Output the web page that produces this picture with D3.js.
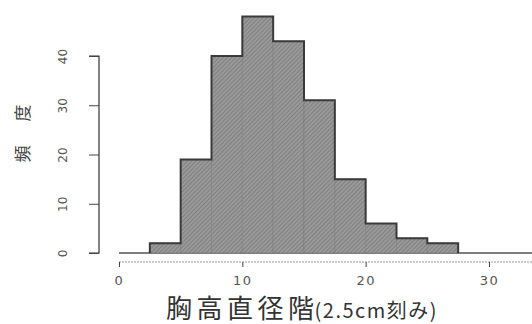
<!DOCTYPE html>
<html><head><meta charset="utf-8">
<script src="https://cdn.jsdelivr.net/npm/d3@7"></script>
<style>body{margin:0;background:#fff}</style>
</head><body>
<svg id="c" width="532" height="324"></svg>
<script>
const binStarts = [0, 2.5, 5, 7.5, 10, 12.5, 15, 17.5, 20, 22.5, 25, 27.5];
const counts    = [0, 2, 19, 40, 48, 43, 31, 15, 6, 3, 2, 0];
const binWidth = 2.5;
const xTicks = [0, 10, 20, 30];
const yTicks = [0, 10, 20, 30, 40];
const xLabelMain = "胸高直径階";
const xLabelSub = "(2.5cm刻み)";
const yLabelChars = ["頻", "度"];

const svg = d3.select("#c");
const x = d3.scaleLinear().domain([0, 30]).range([119, 489]);
const y = d3.scaleLinear().domain([0, 40]).range([253, 56]);

const defs = svg.append("defs");
const pat = defs.append("pattern").attr("id","hatch").attr("patternUnits","userSpaceOnUse")
  .attr("width",3).attr("height",3).attr("patternTransform","rotate(45)");
pat.append("rect").attr("width",3).attr("height",3).attr("fill","#999");
pat.append("line").attr("x1",0).attr("y1",0).attr("x2",0).attr("y2",3).attr("stroke","#707070").attr("stroke-width",1.2);

// zero baseline extending to right edge
svg.append("line").attr("x1", x(0)).attr("x2", 532).attr("y1", y(0)).attr("y2", y(0))
  .attr("stroke", "#555").attr("stroke-width", 1.3);

const bars = binStarts.map((s,i)=>({s, c: counts[i]})).filter(d=>d.c>0);
svg.selectAll("rect.bar").data(bars).join("rect").attr("class","bar")
  .attr("x", d=>x(d.s)).attr("width", d=>x(d.s+binWidth)-x(d.s))
  .attr("y", d=>y(d.c)).attr("height", d=>y(0)-y(d.c))
  .attr("fill","url(#hatch)").attr("stroke","#777").attr("stroke-width",0.8).attr("stroke-opacity",0.6);

// outer outline (step path)
const pts = [];
bars.forEach(d=>{ pts.push([x(d.s), y(d.c)]); pts.push([x(d.s+binWidth), y(d.c)]); });
const first = bars[0], last = bars[bars.length-1];
pts.unshift([x(first.s), y(0)]);
pts.push([x(last.s+binWidth), y(0)]);
svg.append("path").attr("d", d3.line()(pts)).attr("fill","none").attr("stroke","#3a3a3a").attr("stroke-width",2);

// y axis
const ya = svg.append("g").attr("transform","translate(99,0)")
  .call(d3.axisLeft(y).tickValues(yTicks).tickSize(10).tickFormat(d3.format("d")));
ya.select(".domain").attr("stroke","#333").attr("stroke-width",1.2).attr("d","M-10,"+y(40)+"H0V"+y(0)+"H-10");
ya.selectAll(".tick line").attr("stroke","#444");
ya.selectAll(".tick text").attr("font-family","DejaVu Sans").attr("font-size",12).attr("fill","#555")
  .attr("text-anchor","middle").attr("dx",0).attr("x",0).attr("dy","0.35em")
  .attr("transform","translate(-36,0) rotate(-90)");

// x axis
const xa = svg.append("g").attr("transform","translate(0,262)")
  .call(d3.axisBottom(x).tickValues(xTicks).tickSize(5).tickFormat(d3.format("d")));
xa.select(".domain").attr("d","M"+x(0)+",0H532").attr("stroke","#999").attr("stroke-dasharray","2,1");
xa.selectAll(".tick line").attr("stroke","#444");
xa.selectAll(".tick text").attr("font-family","DejaVu Sans").attr("font-size",13).attr("fill","#555")
  .attr("letter-spacing","1.5px").attr("y",14);

// y label (rotated characters, bottom-to-top)
svg.selectAll("text.ylab").data(yLabelChars).join("text").attr("class","ylab")
  .attr("transform",(d,i)=>"translate(29,"+(154 - i*41)+") rotate(-90)")
  .attr("text-anchor","middle").attr("font-family","Noto Sans CJK JP").attr("font-size",17)
  .attr("fill","#444").text(d=>d);

// x label
const xl = svg.append("text").attr("x", 166).attr("y", 318).attr("text-anchor","start")
  .attr("font-family","Noto Sans CJK JP").attr("fill","#333");
xl.append("tspan").attr("font-size",26).attr("letter-spacing","4.5px").text(xLabelMain);
xl.append("tspan").attr("font-size",20).attr("letter-spacing","1.5px").attr("dx",-4).text(xLabelSub);
</script>
</body></html>
